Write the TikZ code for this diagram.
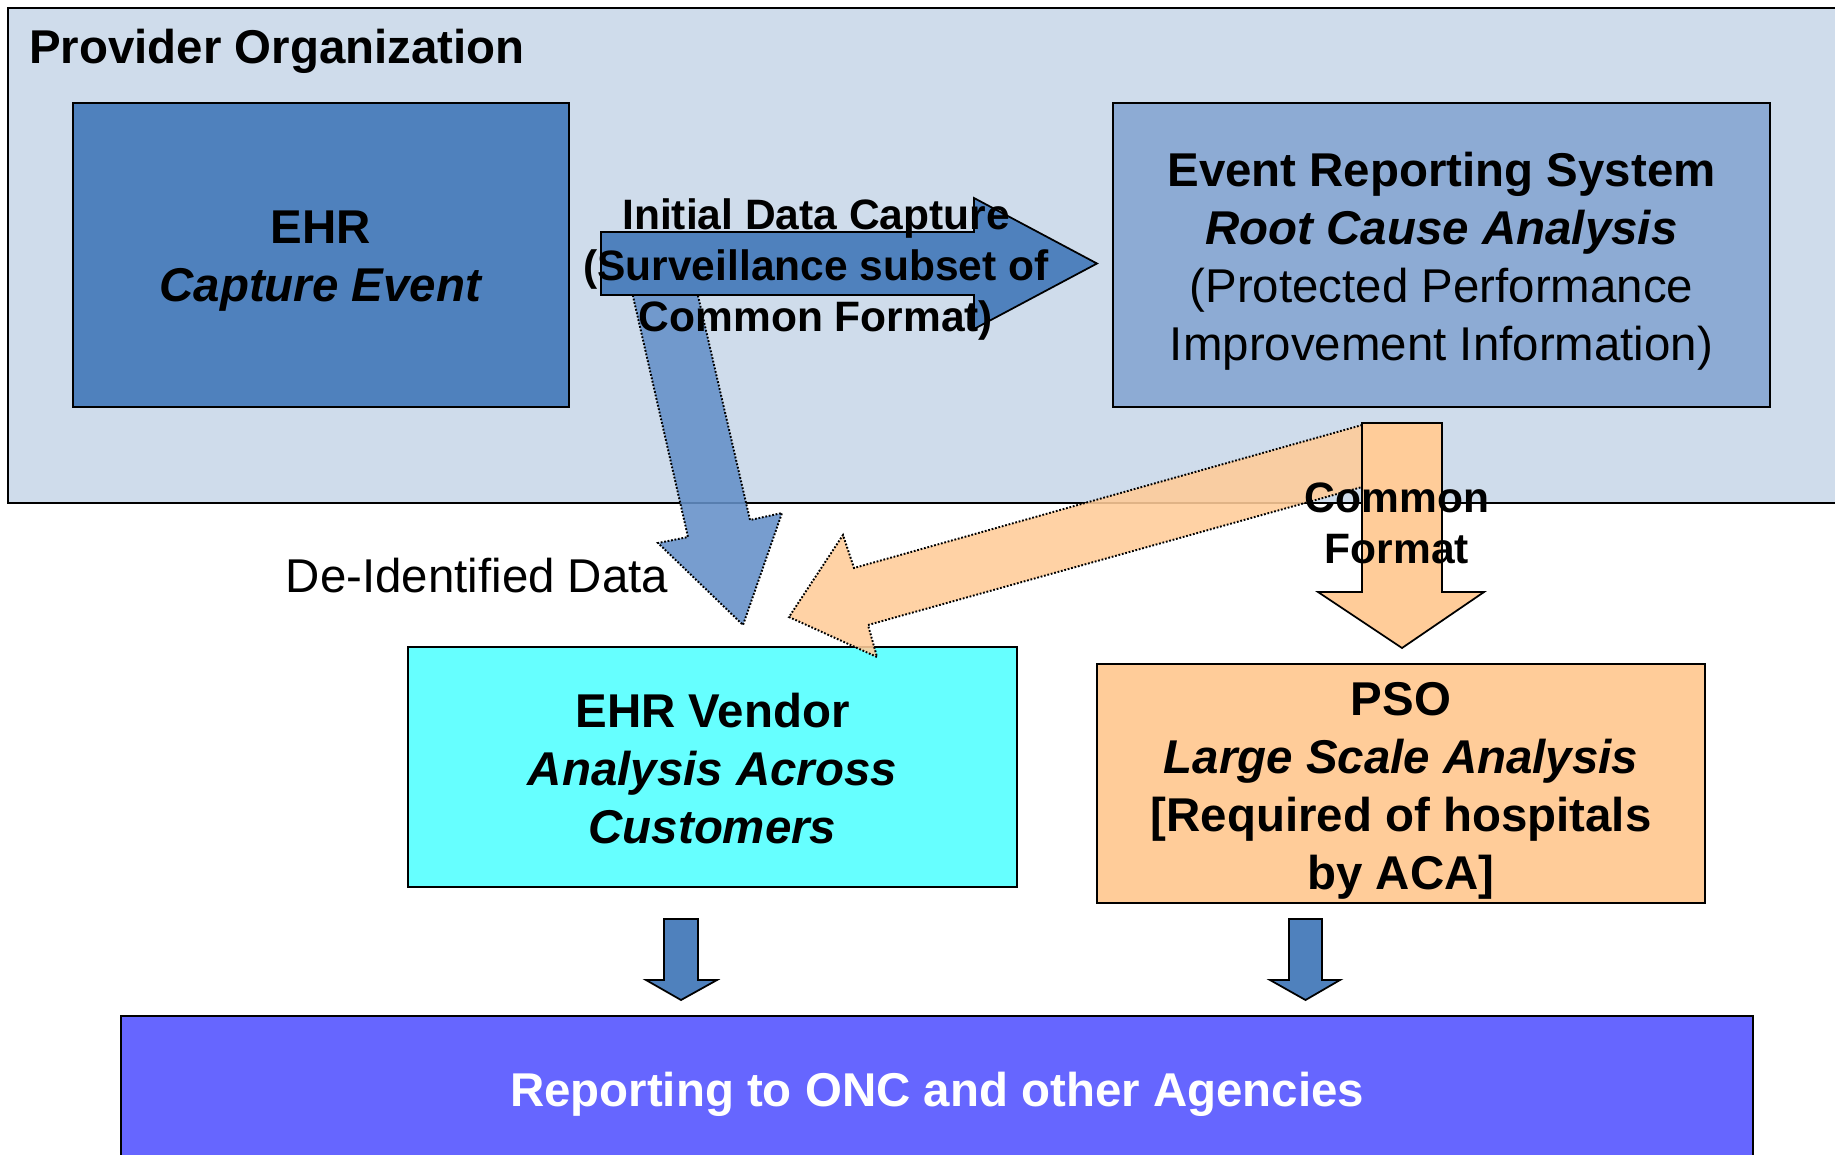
\documentclass[tikz,border=0pt]{standalone}
\usepackage{fontspec}
\setmainfont{Liberation Sans}
\usetikzlibrary{positioning}

\definecolor{orgbg}{RGB}{207,220,235}
\definecolor{ehrblue}{RGB}{79,129,189}
\definecolor{ersblue}{RGB}{141,171,212}
\definecolor{deidblue}{RGB}{100,144,200}
\definecolor{psoorange}{RGB}{255,204,153}
\definecolor{vendorcyan}{RGB}{102,255,255}
\definecolor{reportblue}{RGB}{102,102,255}

\tikzset{
  box/.style={draw=black, line width=1pt, inner sep=0pt},
  boxtext/.style={align=center, inner sep=0pt, font=\fontsize{27}{33}\selectfont},
  fatarrow/.style={draw=black, line width=1pt},
  seearrow/.style={draw=black, dash pattern=on 1pt off 1pt, line width=1.1pt, fill opacity=0.88},
  arrowlabel/.style={align=center, font=\bfseries\fontsize{24.2}{29}\selectfont},
}

\begin{document}
\begin{tikzpicture}[x=0.02cm, y=-0.02cm]
\useasboundingbox (0,0) rectangle (1835,1154);
\clip (0,0) rectangle (1835,1154);

% provider organization
\node[box, fill=orgbg, minimum width=36.74cm, minimum height=9.9cm] (org) at (926.5,255.5) {};
\node[anchor=base west, inner sep=0pt, font=\bfseries\fontsize{27}{33}\selectfont] (orgtitle) at (29,63) {Provider Organization};

\node[box, fill=ehrblue, minimum width=9.92cm, minimum height=6.08cm] (ehr) at (321,255) {};
\node[boxtext] (ehrtext) at ([yshift=-0.12cm]ehr.center)
  {\textbf{EHR}\\\textbf{\textit{Capture Event}}};
\node[box, fill=ersblue, minimum width=13.14cm, minimum height=6.08cm] (ers) at (1441.5,255) {};
\node[boxtext] (erstext) at ([yshift=-0.12cm]ers.center)
  {\textbf{Event Reporting System}\\\textbf{\textit{Root Cause Analysis}}\\(Protected Performance\\Improvement Information)};

% de-identified data arrow
\filldraw[seearrow, fill=deidblue] (627,270) -- (692,270) -- (750,520) -- (782,513) -- (743,625)
  -- (658,543) -- (688,537) -- cycle;

% initial data capture arrow
\filldraw[fatarrow, fill=ehrblue] (601,232) -- (974,232) -- (974,198) -- (1097,263.5) -- (974,329)
  -- (974,295) -- (601,295) -- cycle;
\node[arrowlabel] (capture) at (816,269.5) {Initial Data Capture\\(Surveillance subset of\\Common Format)};

\node[anchor=center, font=\fontsize{27}{33}\selectfont] (deid) at (477,576) {De-Identified Data};

\node[box, fill=vendorcyan, minimum width=12.18cm, minimum height=4.8cm] (vendor) at (712.5,767) {};
\node[boxtext] (vendortext) at ([yshift=-0.04cm]vendor.center)
  {\textbf{EHR Vendor}\\\textbf{\textit{Analysis Across}}\\\textbf{\textit{Customers}}};
\node[box, fill=psoorange, minimum width=12.16cm, minimum height=4.78cm] (pso) at (1401,783.5) {};
\node[boxtext] (psotext) at ([yshift=-0.14cm]pso.center)
  {\textbf{PSO}\\\textbf{\textit{Large Scale Analysis}}\\\textbf{[Required of hospitals}\\\textbf{by ACA]}};

% common format arrows
\filldraw[seearrow, fill=psoorange] (1362,425) -- (854,568) -- (843,535) -- (789,617) -- (877,657)
  -- (868,625) -- (1380,482) -- cycle;
\filldraw[fatarrow, fill=psoorange] (1362,423) -- (1442,423) -- (1442,592) -- (1484,592) -- (1402,648)
  -- (1318,592) -- (1362,592) -- cycle;
\node[arrowlabel] (common) at (1397,523) {Common\\Format};

% reporting
\filldraw[fatarrow, fill=ehrblue] (664,919) -- (698,919) -- (698,980) -- (717,980) -- (681,1000)
  -- (646,980) -- (664,980) -- cycle;
\filldraw[fatarrow, fill=ehrblue] (1289,919) -- (1322,919) -- (1322,980) -- (1340,980) -- (1305.5,1000)
  -- (1270,980) -- (1289,980) -- cycle;
\node[box, fill=reportblue, minimum width=32.64cm, minimum height=2.98cm] (report) at (937,1090.5) {};
\node[boxtext, text=white] (reporttext) at ([yshift=-0.08cm]report.center)
  {\textbf{Reporting to ONC and other Agencies}};
\end{tikzpicture}
\end{document}
